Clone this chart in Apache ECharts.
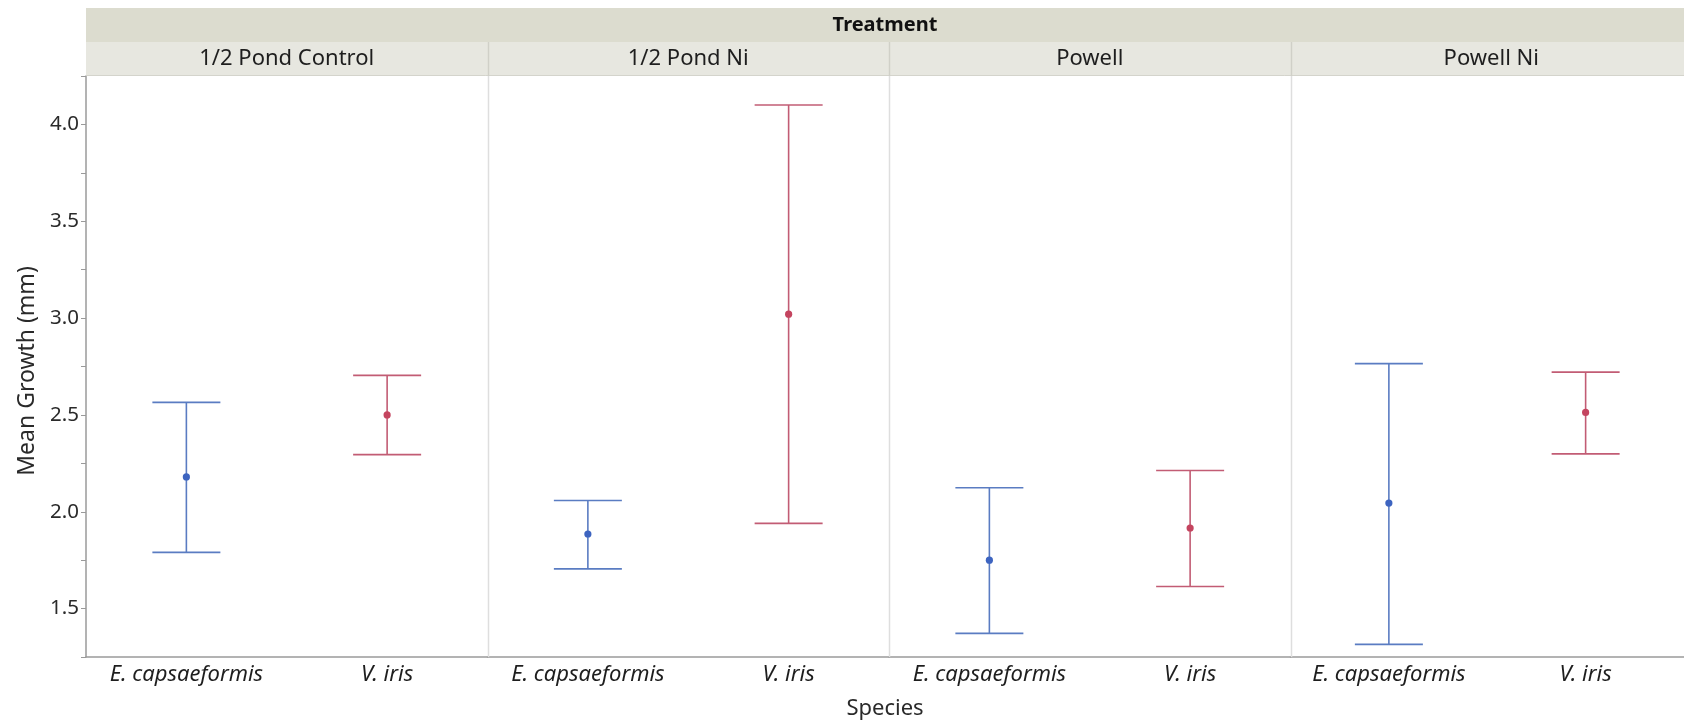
<!DOCTYPE html>
<html>
<head>
<meta charset="utf-8">
<script src="https://cdn.jsdelivr.net/npm/echarts@6/dist/echarts.min.js"></script>
<style>
html,body{margin:0;padding:0;background:#fff;}
#main{width:1684px;height:721px;}
</style>
</head>
<body>
<div id="main"></div>
<script>
// ---- data ----
const treatments = ['1/2 Pond Control', '1/2 Pond Ni', 'Powell', 'Powell Ni'];
const species = ['E. capsaeformis', 'V. iris'];
const ecapMean  = [2.180, 1.885, 1.750, 2.045];
const ecapLower = [1.790, 1.705, 1.372, 1.315];
const ecapUpper = [2.565, 2.058, 2.124, 2.765];
const virisMean  = [2.500, 3.020, 1.916, 2.513];
const virisLower = [2.295, 1.940, 1.614, 2.299];
const virisUpper = [2.704, 4.100, 2.213, 2.721];
const yTicks = [1.5, 2.0, 2.5, 3.0, 3.5, 4.0];

// ---- layout ----
const FONT = 'Noto Sans';
const plotTop = 76, plotBottom = 657, plotLeft = 86, panelW = 401.5;
const H = 721, W = 1684;
const lineColors = ['#5a7cc2', '#c25c74'];
const dotColors = ['#3d64c0', '#c4445f'];

const chart = echarts.init(document.getElementById('main'), null, {renderer: 'canvas'});

const grids = [], xAxes = [], yAxes = [], series = [];
treatments.forEach((t, i) => {
  grids.push({
    left: plotLeft + panelW * i, top: plotTop, width: panelW, height: plotBottom - plotTop,
    containLabel: false, show: false
  });
  xAxes.push({
    type: 'category', gridIndex: i, data: species,
    axisLine: {show: true, lineStyle: {color: '#9a9a9a', width: 1.5}},
    axisTick: {show: false},
    axisLabel: {interval: 0, hideOverlap: false, fontFamily: FONT, fontStyle: 'italic', fontSize: 22, color: '#1e1e1e', margin: 7},
    splitLine: {show: false}
  });
  yAxes.push({
    type: 'value', gridIndex: i, min: 1.25, max: 4.25, interval: 0.25,
    axisLine: {show: i === 0, lineStyle: {color: '#9a9a9a', width: 1.5}},
    axisTick: {show: i === 0, length: 5, lineStyle: {color: '#9a9a9a'}},
    axisLabel: {
      show: i === 0, fontFamily: FONT, fontSize: 20.5, color: '#2a2a2a', margin: 7,
      formatter: v => {
        const hit = yTicks.find(t => Math.abs(t - v) < 1e-6);
        return hit !== undefined ? hit.toFixed(1) : '';
      }
    },
    splitLine: {show: false}
  });
  const data = [
    [0, ecapLower[i], ecapUpper[i], ecapMean[i]],
    [1, virisLower[i], virisUpper[i], virisMean[i]]
  ];
  series.push({
    type: 'custom', xAxisIndex: i, yAxisIndex: i, data: data,
    renderItem: (params, api) => {
      const x = api.value(0);
      const pLo = api.coord([x, api.value(1)]);
      const pHi = api.coord([x, api.value(2)]);
      const pM = api.coord([x, api.value(3)]);
      const hw = 34;
      const lc = lineColors[x], dc = dotColors[x];
      const st = {stroke: lc, lineWidth: 1.6};
      return {
        type: 'group',
        children: [
          {type: 'line', shape: {x1: pHi[0], y1: pHi[1], x2: pLo[0], y2: pLo[1]}, style: st},
          {type: 'line', shape: {x1: pHi[0] - hw, y1: pHi[1], x2: pHi[0] + hw, y2: pHi[1]}, style: st},
          {type: 'line', shape: {x1: pLo[0] - hw, y1: pLo[1], x2: pLo[0] + hw, y2: pLo[1]}, style: st},
          {type: 'circle', shape: {cx: pM[0], cy: pM[1], r: 3.6}, style: {fill: dc}}
        ]
      };
    },
    silent: true
  });
});

// ---- header & decorations ----
const graphic = [];
graphic.push({type: 'rect', shape: {x: plotLeft, y: 8, width: W - plotLeft, height: 34}, style: {fill: '#dcdccf'}, z: 1});
graphic.push({type: 'rect', shape: {x: plotLeft, y: 42, width: W - plotLeft, height: 34}, style: {fill: '#e7e7e0'}, z: 1});
graphic.push({type: 'line', shape: {x1: plotLeft, y1: 75.5, x2: W, y2: 75.5}, style: {stroke: '#d4d4cc', lineWidth: 1}, z: 2});
graphic.push({
  type: 'text', x: (plotLeft + W) / 2, y: 25, z: 3,
  style: {text: 'Treatment', fontFamily: FONT, fontWeight: 'bold', fontSize: 20, fill: '#111', align: 'center', verticalAlign: 'middle'}
});
treatments.forEach((t, i) => {
  const cx = plotLeft + panelW * i + panelW / 2;
  graphic.push({
    type: 'text', x: cx, y: 59, z: 3,
    style: {text: t, fontFamily: FONT, fontSize: 22, fill: '#1e1e1e', align: 'center', verticalAlign: 'middle'}
  });
  if (i > 0) {
    const dx = Math.round(plotLeft + panelW * i) + 0.5;
    graphic.push({type: 'line', shape: {x1: dx, y1: 42, x2: dx, y2: 76}, style: {stroke: '#d0d0c8', lineWidth: 1.5}, z: 2});
    graphic.push({type: 'line', shape: {x1: dx, y1: 76, x2: dx, y2: plotBottom}, style: {stroke: '#dedede', lineWidth: 1.5}, z: 2});
  }
});
graphic.push({
  type: 'text', x: 27, y: 371, rotation: Math.PI / 2, z: 3,
  style: {text: 'Mean Growth (mm)', fontFamily: FONT, fontSize: 23, fill: '#2a2a2a', align: 'center', verticalAlign: 'middle'}
});
graphic.push({
  type: 'text', x: (plotLeft + W) / 2, y: 709, z: 3,
  style: {text: 'Species', fontFamily: FONT, fontSize: 22, fill: '#2a2a2a', align: 'center', verticalAlign: 'middle'}
});

chart.setOption({
  animation: false,
  backgroundColor: '#ffffff',
  textStyle: {fontFamily: FONT},
  grid: grids, xAxis: xAxes, yAxis: yAxes, series: series,
  graphic: graphic
});
</script>
</body>
</html>
